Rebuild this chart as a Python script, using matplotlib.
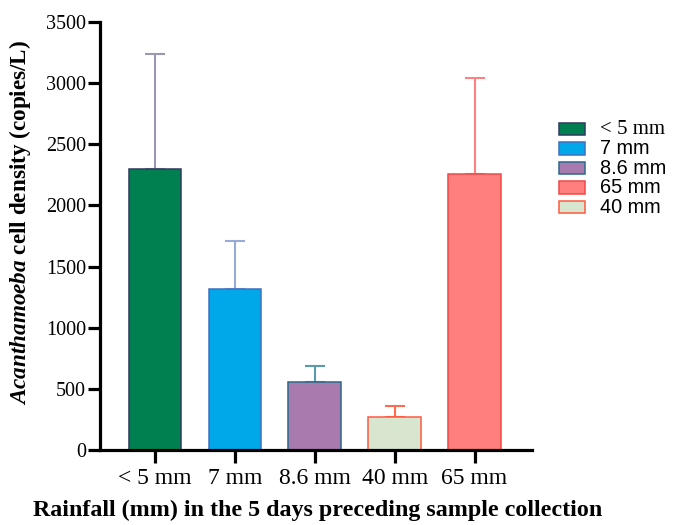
import matplotlib
matplotlib.use("Agg")
import matplotlib.pyplot as plt
from matplotlib.patches import Rectangle

categories = ["< 5 mm", "7 mm", "8.6 mm", "40 mm", "65 mm"]
values = [2300, 1316, 560, 272, 2260]
errors = [935, 390, 125, 90, 785]

face_colors = ["#008050", "#00a8ea", "#a87aae", "#d8e6d0", "#ff7f7c"]
edge_colors = ["#303a60", "#4070c0", "#2a6a8a", "#ff5a40", "#f04848"]
err_colors = ["#9a98b0", "#98aad8", "#5a9ab0", "#ff6a50", "#ff8080"]

legend_labels = ["< 5 mm", "7 mm", "8.6 mm", "65 mm", "40 mm"]
legend_order = [0, 1, 2, 4, 3]

plt.rcParams["font.family"] = ["Liberation Serif"]
plt.rcParams["mathtext.fontset"] = "custom"
plt.rcParams["mathtext.it"] = "Liberation Serif:italic:bold"
plt.rcParams["mathtext.rm"] = "Liberation Serif:bold"

W, H = 673, 525
fig = plt.figure(figsize=(W / 100, H / 100), dpi=100)
ax = fig.add_axes([100 / W, 1 - 450 / H, (532 - 100) / W, (450 - 22) / H])

x = list(range(len(categories)))
for i in x:
    ax.bar(i, values[i], width=0.66, color=face_colors[i], edgecolor=edge_colors[i],
           linewidth=1.1, zorder=2)
    ax.errorbar(i, values[i], yerr=[[0], [errors[i]]], fmt="none", ecolor=err_colors[i],
                elinewidth=1.5, capsize=7, capthick=1.5, zorder=1)

ax.set_xlim(-0.69, 4.72)
ax.set_ylim(0, 3500)
ax.set_yticks(range(0, 3501, 500))
ax.set_xticks(x)
ax.set_xticklabels(categories)
ax.tick_params(axis="both", which="major", direction="out", length=9, width=2.3)
ax.tick_params(axis="y", labelsize=14.5, pad=1)
ax.tick_params(axis="x", labelsize=17, pad=4)
for s in ["left", "bottom"]:
    ax.spines[s].set_linewidth(2.3)
for s in ["top", "right"]:
    ax.spines[s].set_visible(False)

fig.text(20 / W, 1 - 222 / H, r"$\mathit{Acanthamoeba}$ cell density (copies/L)",
         fontsize=16.7, fontweight="bold", rotation=90, ha="center", va="center")
fig.text(318 / W, 1 - 510 / H, "Rainfall (mm) in the 5 days preceding sample collection",
         fontsize=17.3, fontweight="bold", ha="center", va="center")

# legend drawn as patches + text in figure pixel coordinates
for k, j in enumerate(legend_order):
    yc = 129 + 19.5 * k
    fig.patches.append(Rectangle((559 / W, 1 - (yc + 6) / H), 26 / W, 12 / H,
                                 transform=fig.transFigure, facecolor=face_colors[j],
                                 edgecolor=edge_colors[j], linewidth=1.1))
    fam = "Liberation Serif" if k == 0 else "Liberation Sans"
    fig.text(600 / W, 1 - yc / H, legend_labels[k], fontsize=15 if k == 0 else 14.3,
             family=fam, ha="left", va="center")

fig.savefig("out.png", dpi=100)
